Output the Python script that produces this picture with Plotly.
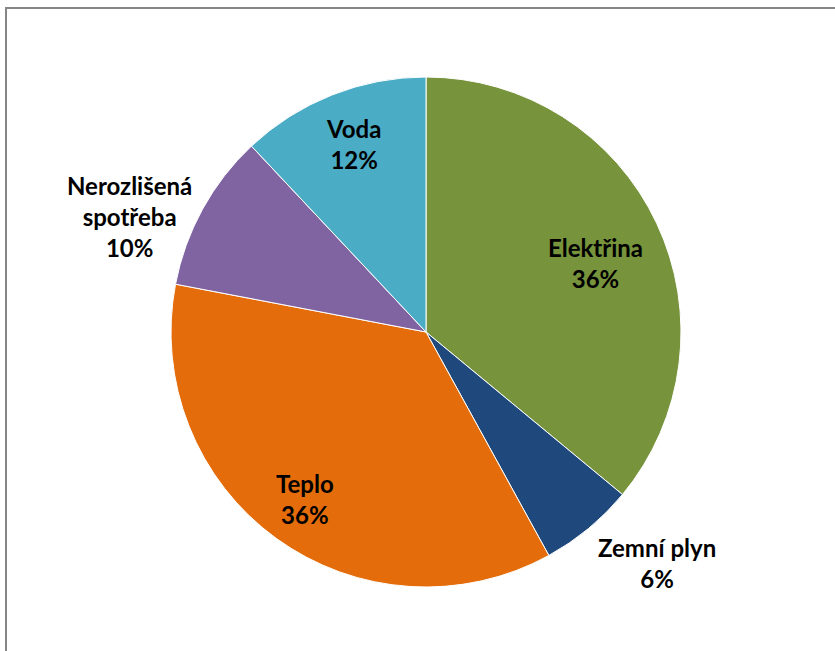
import math
import plotly.graph_objects as go

# Energy consumption shares
categories = ["Elektřina", "Zemní plyn", "Teplo", "Nerozlišená<br>spotřeba", "Voda"]
shares = [36, 6, 36, 10, 12]
colors = ["#77933C", "#1F497D", "#E46C0A", "#8064A2", "#4BACC6"]

W, H = 835, 651
CX, CY, R = 426, 332, 255  # pie centre and radius in pixels

# label placement: radial distance (fraction of radius) and angular nudge (deg)
label_radius = [0.72, 1.28, 0.81, 1.25, 0.79]
label_nudge = [3, -5.4, 0, -7.5, 0.5]

fig = go.Figure(go.Pie(
    labels=categories,
    values=shares,
    sort=False,
    direction="clockwise",
    rotation=0,
    marker=dict(colors=colors, line=dict(color="#FFFFFF", width=1)),
    textinfo="none",
    hoverinfo="label+percent",
    showlegend=False,
    domain=dict(x=[(CX - R) / W, (CX + R) / W], y=[1 - (CY + R) / H, 1 - (CY - R) / H]),
))

total = sum(shares)
cum = 0
annotations = []
for i, (cat, v) in enumerate(zip(categories, shares)):
    mid = (cum + v / 2) / total * 360 + label_nudge[i]
    cum += v
    a = math.radians(mid)
    px = CX + label_radius[i] * R * math.sin(a)
    py = CY - label_radius[i] * R * math.cos(a)
    annotations.append(dict(
        x=px / W, y=1 - py / H, xref="paper", yref="paper",
        text=f"<b>{cat}<br>{round(v / total * 100)}%</b>",
        showarrow=False, xanchor="center", yanchor="middle", align="center",
        font=dict(family="Lato", size=24, color="#000000"),
    ))

fig.update_layout(
    width=W, height=H,
    margin=dict(l=0, r=0, t=0, b=0),
    paper_bgcolor="#FFFFFF",
    plot_bgcolor="#FFFFFF",
    annotations=annotations,
    shapes=[dict(
        type="rect", xref="paper", yref="paper",
        x0=6 / W, y0=-0.05, x1=1.05, y1=1 - 8 / H,
        line=dict(color="#868686", width=2), fillcolor="rgba(0,0,0,0)",
    )],
)

fig.write_html("out.html")
